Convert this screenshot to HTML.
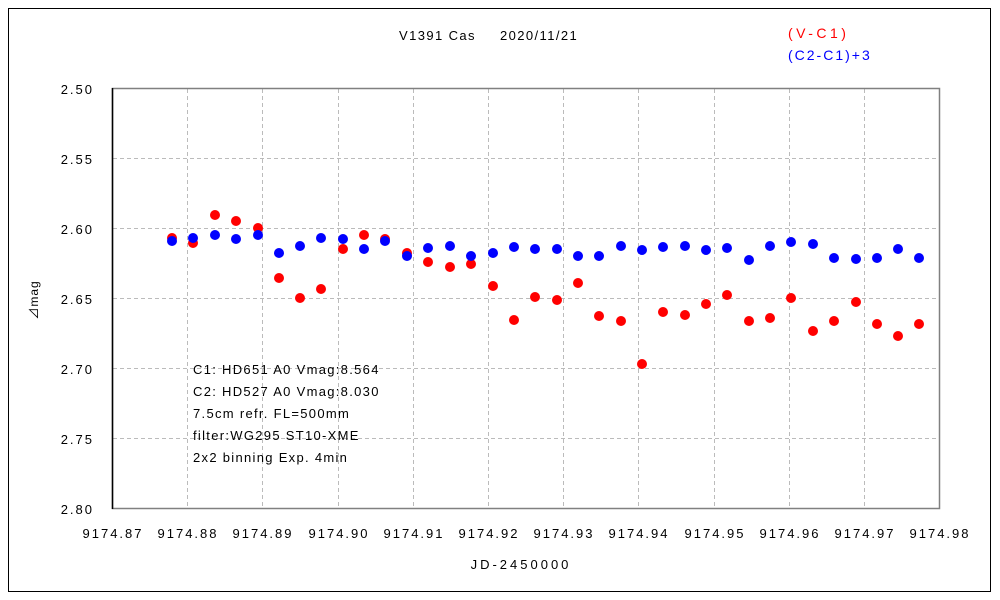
<!DOCTYPE html>
<html><head><meta charset="utf-8"><style>
html,body{margin:0;padding:0;background:#fff;}
svg{display:block;font-family:"Liberation Sans","Noto Sans CJK JP",sans-serif;}
</style></head><body>
<svg width="1000" height="600" viewBox="0 0 1000 600">
<rect x="8.5" y="8.5" width="982" height="583" fill="#fff" stroke="#000" stroke-width="1"/>
<g stroke="#bbb" stroke-dasharray="4,3" stroke-width="1">
<line x1="187.5" y1="89" x2="187.5" y2="508"/>
<line x1="262.5" y1="89" x2="262.5" y2="508"/>
<line x1="338.5" y1="89" x2="338.5" y2="508"/>
<line x1="413.5" y1="89" x2="413.5" y2="508"/>
<line x1="488.5" y1="89" x2="488.5" y2="508"/>
<line x1="563.5" y1="89" x2="563.5" y2="508"/>
<line x1="638.5" y1="89" x2="638.5" y2="508"/>
<line x1="714.5" y1="89" x2="714.5" y2="508"/>
<line x1="789.5" y1="89" x2="789.5" y2="508"/>
<line x1="864.5" y1="89" x2="864.5" y2="508"/>
<line x1="113" y1="158.5" x2="939" y2="158.5"/>
<line x1="113" y1="228.5" x2="939" y2="228.5"/>
<line x1="113" y1="298.5" x2="939" y2="298.5"/>
<line x1="113" y1="368.5" x2="939" y2="368.5"/>
<line x1="113" y1="438.5" x2="939" y2="438.5"/>
</g>
<rect x="112.5" y="88.5" width="827" height="420" fill="none" stroke="#808080" stroke-width="1.5"/>
<line x1="112.5" y1="88" x2="112.5" y2="509" stroke="#000" stroke-width="1.5"/>
<g font-size="13" fill="#000" text-anchor="end" letter-spacing="2">
<text x="94" y="94">2.50</text><text x="94" y="164">2.55</text><text x="94" y="234">2.60</text>
<text x="94" y="304">2.65</text><text x="94" y="374">2.70</text><text x="94" y="444">2.75</text><text x="94" y="514">2.80</text>
</g>
<g font-size="13" fill="#000" text-anchor="middle" letter-spacing="2">
<text x="113" y="538">9174.87</text><text x="188" y="538">9174.88</text><text x="263" y="538">9174.89</text>
<text x="339" y="538">9174.90</text><text x="414" y="538">9174.91</text><text x="489" y="538">9174.92</text>
<text x="564" y="538">9174.93</text><text x="639" y="538">9174.94</text><text x="715" y="538">9174.95</text>
<text x="790" y="538">9174.96</text><text x="865" y="538">9174.97</text><text x="940" y="538">9174.98</text>
</g>
<text x="521" y="569" font-size="13" text-anchor="middle" letter-spacing="3">JD-2450000</text>
<text x="399" y="40" font-size="13" letter-spacing="1.4">V1391 Cas   <tspan x="500">2020/11/21</tspan></text>
<text transform="translate(38,300) rotate(-90)" font-size="12" text-anchor="middle" letter-spacing="1">⊿mag</text>
<text x="788" y="38" font-size="14" fill="#f00" letter-spacing="3.5">(V-C1)</text>
<text x="788" y="60" font-size="14" fill="#00f" letter-spacing="2">(C2-C1)+3</text>
<g font-size="13" fill="#000" letter-spacing="1.3">
<text x="193" y="374">C1: HD651 A0 Vmag:8.564</text>
<text x="193" y="396">C2: HD527 A0  Vmag:8.030</text>
<text x="193" y="418">7.5cm refr. FL=500mm</text>
<text x="193" y="440">filter:WG295  ST10-XME</text>
<text x="193" y="462">2x2 binning  Exp. 4min</text>
</g>
<g fill="#f00">
<circle cx="172" cy="238" r="5"/><circle cx="193" cy="243" r="5"/><circle cx="215" cy="215" r="5"/><circle cx="236" cy="221" r="5"/><circle cx="258" cy="228" r="5"/><circle cx="279" cy="278" r="5"/><circle cx="300" cy="298" r="5"/><circle cx="321" cy="289" r="5"/><circle cx="343" cy="249" r="5"/><circle cx="364" cy="235" r="5"/><circle cx="385" cy="239" r="5"/><circle cx="407" cy="253" r="5"/><circle cx="428" cy="262" r="5"/><circle cx="450" cy="267" r="5"/><circle cx="471" cy="264" r="5"/><circle cx="493" cy="286" r="5"/><circle cx="514" cy="320" r="5"/><circle cx="535" cy="297" r="5"/><circle cx="557" cy="300" r="5"/><circle cx="578" cy="283" r="5"/><circle cx="599" cy="316" r="5"/><circle cx="621" cy="321" r="5"/><circle cx="642" cy="364" r="5"/><circle cx="663" cy="312" r="5"/><circle cx="685" cy="315" r="5"/><circle cx="706" cy="304" r="5"/><circle cx="727" cy="295" r="5"/><circle cx="749" cy="321" r="5"/><circle cx="770" cy="318" r="5"/><circle cx="791" cy="298" r="5"/><circle cx="813" cy="331" r="5"/><circle cx="834" cy="321" r="5"/><circle cx="856" cy="302" r="5"/><circle cx="877" cy="324" r="5"/><circle cx="898" cy="336" r="5"/><circle cx="919" cy="324" r="5"/>
</g>
<g fill="#00f">
<circle cx="172" cy="241" r="5"/><circle cx="193" cy="238" r="5"/><circle cx="215" cy="235" r="5"/><circle cx="236" cy="239" r="5"/><circle cx="258" cy="235" r="5"/><circle cx="279" cy="253" r="5"/><circle cx="300" cy="246" r="5"/><circle cx="321" cy="238" r="5"/><circle cx="343" cy="239" r="5"/><circle cx="364" cy="249" r="5"/><circle cx="385" cy="241" r="5"/><circle cx="407" cy="256" r="5"/><circle cx="428" cy="248" r="5"/><circle cx="450" cy="246" r="5"/><circle cx="471" cy="256" r="5"/><circle cx="493" cy="253" r="5"/><circle cx="514" cy="247" r="5"/><circle cx="535" cy="249" r="5"/><circle cx="557" cy="249" r="5"/><circle cx="578" cy="256" r="5"/><circle cx="599" cy="256" r="5"/><circle cx="621" cy="246" r="5"/><circle cx="642" cy="250" r="5"/><circle cx="663" cy="247" r="5"/><circle cx="685" cy="246" r="5"/><circle cx="706" cy="250" r="5"/><circle cx="727" cy="248" r="5"/><circle cx="749" cy="260" r="5"/><circle cx="770" cy="246" r="5"/><circle cx="791" cy="242" r="5"/><circle cx="813" cy="244" r="5"/><circle cx="834" cy="258" r="5"/><circle cx="856" cy="259" r="5"/><circle cx="877" cy="258" r="5"/><circle cx="898" cy="249" r="5"/><circle cx="919" cy="258" r="5"/>
</g>
</svg>
</body></html>
